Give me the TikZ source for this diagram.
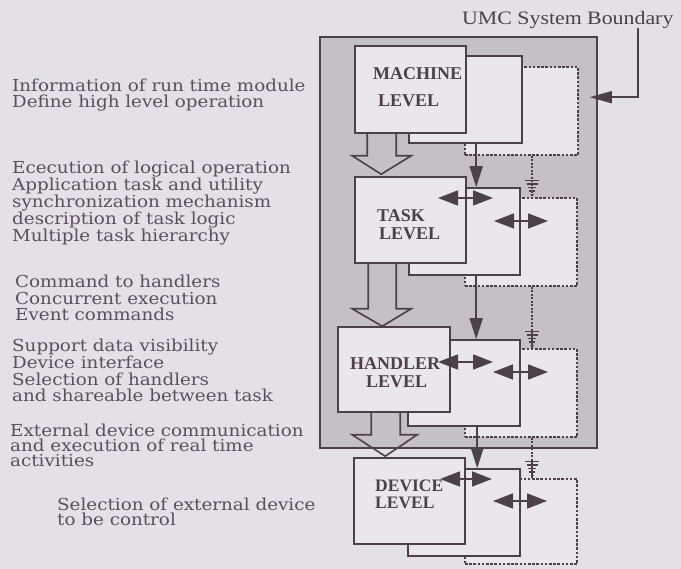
\documentclass[tikz,border=0pt]{standalone}
\usepackage{fontspec}
\setmainfont{DejaVu Serif}
\newfontfamily\descfont[FakeStretch=1.11]{DejaVu Serif}
\newfontfamily\labfont{Liberation Serif}
\usetikzlibrary{arrows.meta,calc}
\definecolor{pagebg}{HTML}{E4E1E6}
\definecolor{shade}{HTML}{C4C0C6}
\definecolor{boxfill}{HTML}{E9E7EB}
\definecolor{ink}{HTML}{4B4146}
\definecolor{txt}{HTML}{5A505A}
\newcommand{\hatchhead}[1]{%
  \foreach \dd/\ww in {2.5/1.4,6/2.8,9.5/4.2,13/5.6,16.5/7}
    \draw[ink,line width=1.3pt] ($(#1)+(-\ww,-\dd)$) -- ($(#1)+(\ww,-\dd)$);}
\begin{document}
\begin{tikzpicture}[x=1pt,y=-1pt,
  box/.style={draw=ink, line width=1.6pt, fill=boxfill, inner sep=0pt, rectangle},
  dotbox/.style={draw=ink, line width=1.7pt, dash pattern=on 2.6pt off 1.6pt, fill=boxfill, inner sep=0pt, rectangle},
  lvl/.style={anchor=base west, inner sep=0pt, text=ink, align=left, font=\labfont\bfseries\fontsize{18}{16}\selectfont},
  desc/.style={anchor=base west, inner sep=0pt, text=txt, align=left, font=\descfont\fontsize{16.5}{#1}\selectfont},
  hollow/.style={draw=ink, line width=1.6pt, line join=miter},
  sarrow/.style={draw=ink, line width=1.6pt, -{Triangle[length=21pt,width=13pt]}},
  darrow/.style={draw=ink, line width=1.6pt, {Triangle[length=20pt,width=15pt]}-{Triangle[length=20pt,width=15pt]}},
  darr/.style={draw=ink, line width=1.6pt, dash pattern=on 2pt off 1.5pt},
]
\fill[pagebg] (0,0) rectangle (681,569);
\useasboundingbox (0,0) rectangle (681,569);

% system boundary
\node[draw=ink, line width=1.6pt, fill=shade, inner sep=0pt, minimum width=277pt, minimum height=411pt] (bd) at (458.5,242.5) {};

% machine level
\node[dotbox, minimum width=113pt, minimum height=88pt] (md) at (521.5,111) {};
\node[box, minimum width=113pt, minimum height=87pt] (mm) at (465.5,99.5) {};
\node[box, minimum width=111pt, minimum height=87pt] (mf) at (410.5,89.5) {};
% task level
\node[dotbox, minimum width=112pt, minimum height=88pt] (td) at (521,242) {};
\node[box, minimum width=111pt, minimum height=87pt] (tm) at (464.5,231.5) {};
\node[box, minimum width=111pt, minimum height=86pt] (tf) at (410.5,220) {};
% handler level
\node[dotbox, minimum width=112pt, minimum height=88pt] (hd) at (521,393) {};
\node[box, minimum width=112pt, minimum height=86pt] (hm) at (464,383) {};
\node[box, minimum width=112pt, minimum height=85pt] (hf) at (394,369.5) {};
% device level
\node[dotbox, minimum width=112pt, minimum height=85pt] (dd) at (521,521.5) {};
\node[box, minimum width=112pt, minimum height=87pt] (dm) at (464,512.5) {};
\node[box, minimum width=111pt, minimum height=86pt] (df) at (409.5,501) {};

% hollow arrows between front boxes
\draw[hollow] ($(mf.south west)+(13,0)$) -- ($(mf.south west)+(13,22)$) -- ($(mf.south west)+(-2,22)$)
  -- ($(tf.north west)+(27,-2)$) -- ($(mf.south west)+(57,22)$) -- ($(mf.south west)+(42,22)$) -- ($(mf.south west)+(42,0)$);
\draw[hollow] ($(tf.south west)+(14,0)$) -- ($(tf.south west)+(14,45)$) -- ($(tf.south west)+(-2,45)$)
  -- ($(hf.north west)+(45,0)$) -- ($(tf.south west)+(57,45)$) -- ($(tf.south west)+(42,45)$) -- ($(tf.south west)+(42,0)$);
\draw[hollow] ($(hf.south west)+(34,0)$) -- ($(hf.south west)+(34,22)$) -- ($(hf.south west)+(15,22)$)
  -- ($(df.north west)+(32,-1)$) -- ($(hf.south west)+(80,22)$) -- ($(hf.south west)+(63,22)$) -- ($(hf.south west)+(63,0)$);

% solid arrows between middle boxes
\draw[sarrow] ($(mm.south west)+(68,0)$) -- ($(tm.north west)+(68,0)$);
\draw[sarrow] ($(tm.south west)+(68,0)$) -- ($(hm.north west)+(69,0)$);
\draw[sarrow] ($(hm.south west)+(70,0)$) -- ($(dm.north west)+(70,0)$);

% dotted arrows between dotted boxes
\coordinate (t1) at ($(td.north west)+(68,0)$);
\coordinate (t2) at ($(hd.north west)+(68,0)$);
\coordinate (t3) at ($(dd.north west)+(68,0)$);
\draw[darr] ($(md.south west)+(68,0)$) -- (t1); \hatchhead{t1}
\draw[darr] ($(td.south west)+(68,0)$) -- (t2); \hatchhead{t2}
\draw[darr] ($(hd.south west)+(68,0)$) -- (t3); \hatchhead{t3}

% labels
\node[lvl] (lm1) at (373,80) {MACHINE};
\node[lvl] (lm2) at (378,107) {LEVEL};
\node[lvl] (lt1) at (377,222) {TASK};
\node[lvl] (lt2) at (379,240) {LEVEL};
\node[lvl] (lh1) at (350,370) {HANDLER};
\node[lvl] (lh2) at (366,388) {LEVEL};
\node[lvl, font=\labfont\bfseries\fontsize{17.5}{17.5}\selectfont] (ld) at (375,509) {DEVICE\\LEVEL};

% double arrows
\coordinate (ta1) at (438,198); \coordinate (tb1) at (493,198);
\coordinate (ta2) at (494,221); \coordinate (tb2) at (548,221);
\coordinate (ha1) at (438,362); \coordinate (hb1) at (493,362);
\coordinate (ha2) at (493,372); \coordinate (hb2) at (548,372);
\coordinate (da1) at (440,479); \coordinate (db1) at (492,479);
\coordinate (da2) at (493,501); \coordinate (db2) at (547,501);
\draw[darrow] (ta1) -- (tb1);
\draw[darrow] (ta2) -- (tb2);
\draw[darrow] (ha1) -- (hb1);
\draw[darrow] (ha2) -- (hb2);
\draw[darrow] (da1) -- (db1);
\draw[darrow] (da2) -- (db2);

% boundary callout
\node[anchor=base west, inner sep=0pt, text=ink] (ub) at (462,25) {\scalebox{1.15}[1]{\labfont\fontsize{19}{19}\selectfont UMC System Boundary}};
\coordinate (ubk) at (638,28);
\coordinate (bdin) at ($(bd.north east)+(-8,61)$);
\draw[ink, line width=1.6pt, -{Triangle[length=22pt,width=12pt]}] (ubk) |- (bdin);

% descriptions (anchored at the baseline of their last line)
\node[desc=16] (g1) at (12,108) {Information of run time module\\Define high level operation};
\node[desc=16.2] (g2) at (12,242) {Ececution of logical operation\\Application task and utility\\synchronization mechanism\\description of task logic\\Multiple task hierarchy};
\node[desc=16.5] (g3) at (15,321) {Command to handlers\\Concurrent execution\\Event commands};
\node[desc=16.7] (g4) at (12,402) {Support data visibility\\Device interface\\Selection of handlers\\and shareable between task};
\node[desc=15.2] (g5) at (10,467) {External device communication\\and execution of real time\\activities};
\node[desc=15.5] (g6) at (57,526) {Selection of external device\\to be control};
\end{tikzpicture}
\end{document}
